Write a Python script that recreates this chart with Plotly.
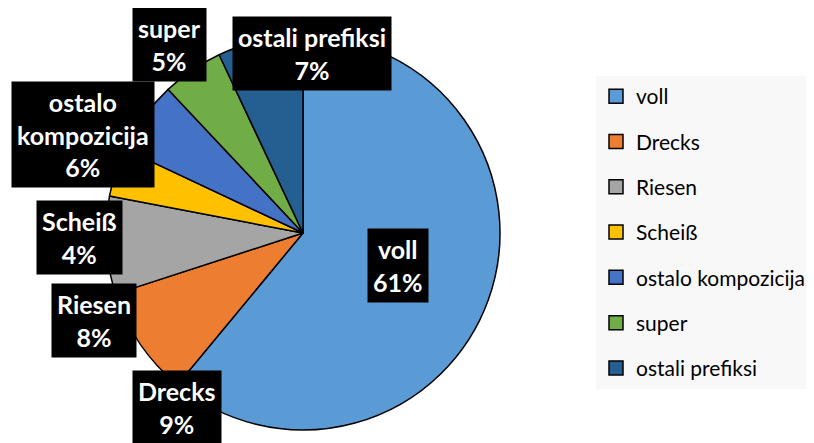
import plotly.graph_objects as go

labels = ["voll", "Drecks", "Riesen", "Scheiß", "ostalo kompozicija", "super", "ostali prefiksi"]
shares = [61, 9, 8, 4, 6, 5, 7]
colors = ["#5B9BD5", "#ED7D31", "#A5A5A5", "#FFC000", "#4472C4", "#70AD47", "#255E91"]

# label box centres in page pixels (placed by hand like the original)
box_px = [(398, 265), (177, 407), (94, 320), (79, 237), (83, 134), (169, 45), (312, 53)]

W, H = 814, 443
OFF = 8  # the page body margin shifts the figure by 8px
FONT = "Lato"


def px_x(v):
    return (v - OFF) / W


def px_y(v):
    return 1 - (v - OFF) / H


fig = go.Figure()
fig.add_trace(go.Pie(
    labels=labels, values=shares, sort=False, direction="clockwise", rotation=0,
    marker=dict(colors=colors, line=dict(color="black", width=1.5)),
    textinfo="none", hoverinfo="label+percent", showlegend=False,
    domain=dict(x=[px_x(106), px_x(500)], y=[px_y(430), px_y(36)]),
))

# legend drawn with dummy square markers so the spacing can match
for i, (name, col) in enumerate(zip(labels, colors)):
    fig.add_trace(go.Scatter(
        x=[None], y=[None], mode="markers", name=name, legendgroup=str(i),
        marker=dict(symbol="square", size=14, color=col, line=dict(color="black", width=1.5)),
    ))

for name, val, (bx, by) in zip(labels, shares, box_px):
    txt = name.replace(" ", "<br>") if len(name) > 15 else name
    fig.add_annotation(
        x=px_x(bx), y=px_y(by), xref="paper", yref="paper",
        xanchor="center", yanchor="middle",
        text=f"<b>{txt}<br>{val}%</b>", showarrow=False,
        font=dict(family=FONT, size=25, color="white"),
        bgcolor="black", borderpad=5, align="center",
    )

fig.update_layout(
    width=W, height=H, margin=dict(l=0, r=0, t=0, b=0),
    paper_bgcolor="white", plot_bgcolor="white",
    xaxis=dict(visible=False), yaxis=dict(visible=False),
    legend=dict(x=px_x(596), y=px_y(76), xanchor="left", yanchor="top",
                font=dict(family=FONT, size=21, color="black"),
                bgcolor="#F8F8F8", tracegroupgap=15, itemwidth=30),
)

fig.write_html("out.html")
